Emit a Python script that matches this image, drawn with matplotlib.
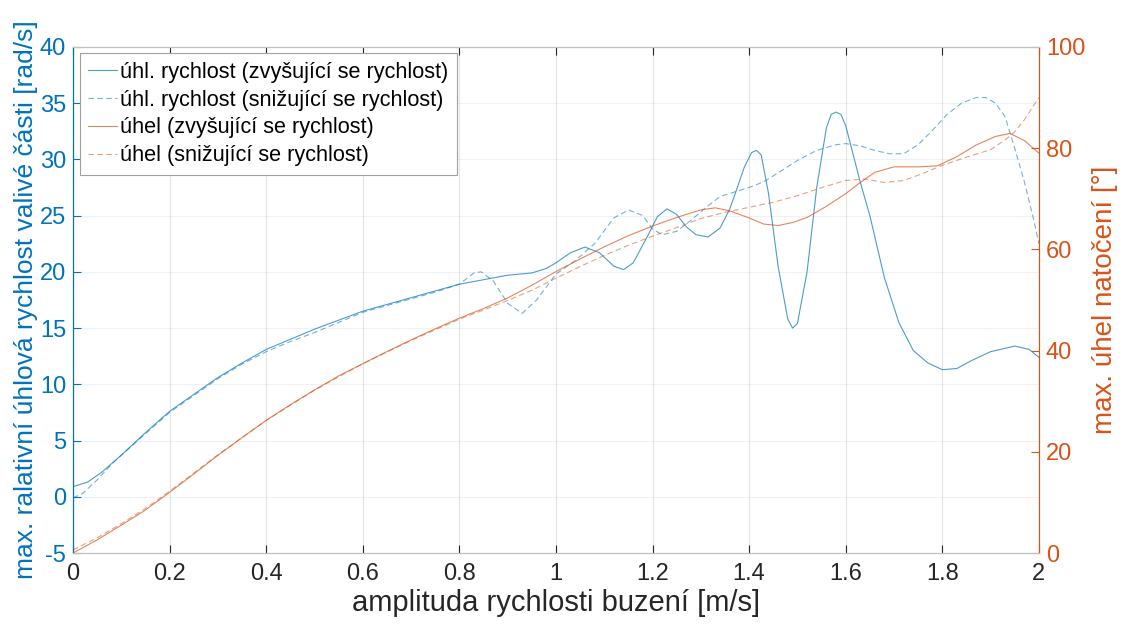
import matplotlib.pyplot as plt

plt.rcParams['font.family'] = ['Liberation Sans', 'DejaVu Sans']
plt.rcParams['axes.unicode_minus'] = False

# úhlová rychlost - zvyšující se rychlost [rad/s]
x_w_up = [0, 0.03, 0.06, 0.1, 0.15, 0.2, 0.25, 0.3, 0.35, 0.4, 0.45, 0.5, 0.55, 0.6, 0.65, 0.7,
          0.75, 0.8, 0.85, 0.9, 0.95, 0.98, 1.0, 1.03, 1.06, 1.09, 1.12, 1.14, 1.16, 1.19, 1.21,
          1.23, 1.25, 1.27, 1.29, 1.315, 1.34, 1.36, 1.37, 1.39, 1.405, 1.415, 1.425, 1.44,
          1.46, 1.48, 1.49, 1.50, 1.52, 1.54, 1.56, 1.57, 1.58, 1.59, 1.6, 1.63, 1.65, 1.68,
          1.71, 1.74, 1.77, 1.80, 1.83, 1.86, 1.9, 1.95, 1.98, 2.0]
w_up = [0.9, 1.3, 2.2, 3.7, 5.7, 7.6, 9.1, 10.6, 11.9, 13.1, 14.0, 14.9, 15.7, 16.5, 17.1, 17.7,
        18.3, 18.9, 19.3, 19.7, 19.9, 20.3, 20.8, 21.7, 22.2, 21.7, 20.5, 20.2, 20.8, 23.2, 24.9,
        25.6, 25.1, 24.0, 23.3, 23.1, 23.9, 25.6, 26.8, 29.3, 30.6, 30.8, 30.4, 27.0,
        20.5, 15.8, 15.0, 15.4, 20.0, 27.5, 32.8, 34.0, 34.2, 34.0, 33.0, 28.0, 25.0, 19.5,
        15.5, 13.0, 11.9, 11.3, 11.4, 12.1, 12.9, 13.4, 13.1, 12.4]

# úhlová rychlost - snižující se rychlost [rad/s]
x_w_down = [0, 0.02, 0.05, 0.08, 0.1, 0.15, 0.2, 0.25, 0.3, 0.35, 0.4, 0.45, 0.5, 0.55, 0.6,
            0.65, 0.7, 0.75, 0.8, 0.83, 0.845, 0.87, 0.9, 0.93, 0.96, 1.0, 1.04, 1.08, 1.12,
            1.15, 1.18, 1.2, 1.22, 1.25, 1.28, 1.31, 1.34, 1.37, 1.40, 1.43, 1.46, 1.5, 1.54,
            1.58, 1.6, 1.63, 1.66, 1.69, 1.72, 1.75, 1.78, 1.81, 1.84, 1.87, 1.89, 1.91, 1.93,
            1.95, 1.97, 1.99, 2.0]
w_down = [-0.1, 0.3, 1.5, 2.9, 3.7, 5.6, 7.5, 9.0, 10.5, 11.8, 12.9, 13.8, 14.6, 15.5, 16.4,
          17.0, 17.6, 18.2, 18.9, 19.9, 20.0, 19.2, 17.2, 16.3, 17.5, 19.8, 21.0, 22.5, 24.8,
          25.5, 25.0, 23.8, 23.3, 23.6, 24.6, 25.7, 26.7, 27.1, 27.5, 28.0, 28.8, 29.9, 30.8,
          31.3, 31.4, 31.2, 30.8, 30.5, 30.5, 31.3, 32.6, 34.0, 35.0, 35.5, 35.5, 35.0, 33.8,
          31.0, 28.0, 24.5, 22.5]

# úhel natočení - zvyšující se rychlost [°]
x_a_up = [0, 0.05, 0.1, 0.15, 0.2, 0.25, 0.3, 0.35, 0.4, 0.45, 0.5, 0.55, 0.6, 0.65, 0.7, 0.75,
          0.8, 0.85, 0.9, 0.95, 1.0, 1.05, 1.1, 1.15, 1.2, 1.25, 1.3, 1.33, 1.36, 1.4, 1.43,
          1.46, 1.49, 1.52, 1.56, 1.6, 1.63, 1.66, 1.7, 1.75, 1.79, 1.83, 1.87, 1.91, 1.94,
          1.97, 2.0]
a_up = [0, 2.6, 5.5, 8.5, 12.0, 15.6, 19.3, 22.8, 26.2, 29.3, 32.2, 35.0, 37.4, 39.8, 42.1, 44.3,
        46.4, 48.3, 50.4, 52.9, 55.6, 58.1, 60.5, 62.7, 64.6, 66.3, 67.8, 68.2, 67.6, 66.2, 65.0,
        64.7, 65.3, 66.3, 68.5, 71.0, 73.2, 75.2, 76.3, 76.3, 76.5, 78.3, 80.6, 82.3, 82.9,
        81.5, 79.0]

# úhel natočení - snižující se rychlost [°]
x_a_down = [0, 0.05, 0.1, 0.15, 0.2, 0.3, 0.4, 0.5, 0.6, 0.7, 0.8, 0.85, 0.9, 0.95, 1.0, 1.05,
            1.1, 1.15, 1.2, 1.25, 1.3, 1.35, 1.4, 1.45, 1.5, 1.55, 1.6, 1.64, 1.68, 1.72, 1.76,
            1.8, 1.85, 1.9, 1.93, 1.95, 1.97, 2.0]
a_down = [0.6, 3.0, 5.8, 8.8, 12.2, 19.4, 26.2, 32.2, 37.4, 42.0, 46.2, 48.0, 49.9, 51.9, 54.3,
          56.6, 58.8, 60.8, 62.6, 64.3, 66.1, 67.3, 68.3, 69.3, 70.6, 72.2, 73.6, 73.9, 73.2,
          73.6, 75.0, 76.6, 78.2, 79.7, 81.6, 83.2, 85.6, 90.0]

blue = '#0072BD'
orange = '#D95319'
dark = '#262626'

fig = plt.figure(figsize=(11.27, 6.26), dpi=100)
ax = fig.add_axes([0.0648, 0.1166, 0.857, 0.8085])
ax2 = ax.twinx()

l1, = ax.plot(x_w_up, w_up, color=blue, lw=0.8, alpha=0.7)
l2, = ax.plot(x_w_down, w_down, color=blue, lw=0.8, alpha=0.55, dashes=(5, 3))
l3, = ax2.plot(x_a_up, a_up, color=orange, lw=0.8, alpha=0.7)
l4, = ax2.plot(x_a_down, a_down, color=orange, lw=0.8, alpha=0.55, dashes=(5, 3))

ax.set_xlim(0, 2)
ax.set_ylim(-5, 40)
ax2.set_ylim(0, 100)
ax.set_xticks([0, 0.2, 0.4, 0.6, 0.8, 1, 1.2, 1.4, 1.6, 1.8, 2])
ax.set_xticklabels(['0', '0.2', '0.4', '0.6', '0.8', '1', '1.2', '1.4', '1.6', '1.8', '2'])
ax.set_yticks(range(-5, 41, 5))
ax2.set_yticks(range(0, 101, 20))

ax.grid(True, axis='x', color=dark, alpha=0.12, lw=0.8)
ax.grid(True, axis='y', color=blue, alpha=0.08, lw=0.8)

ax.tick_params(axis='x', direction='in', length=6, top=True, colors=dark, labelsize=17, pad=7)
ax.tick_params(axis='y', direction='in', length=6, colors=blue, labelsize=17, pad=5)
ax2.tick_params(axis='y', direction='in', length=6, colors=orange, labelsize=17, pad=5)

for a in (ax, ax2):
    a.spines['top'].set_color('#c0c0c0')
    a.spines['bottom'].set_color('#c0c0c0')
    a.spines['left'].set_color(blue)
    a.spines['right'].set_color(orange)
    for s in a.spines.values():
        s.set_linewidth(0.8)

ax.set_xlabel('amplituda rychlosti buzení [m/s]', fontsize=21, color=dark, labelpad=3)
ax.set_ylabel('max. ralativní úhlová rychlost valivé části [rad/s]', fontsize=19, color=blue,
              labelpad=1)
ax2.set_ylabel('max. úhel natočení [°]', fontsize=20, color=orange, labelpad=5)

leg = ax2.legend([l1, l2, l3, l4],
                 ['úhl. rychlost (zvyšující se rychlost)', 'úhl. rychlost (snižující se rychlost)',
                  'úhel (zvyšující se rychlost)', 'úhel (snižující se rychlost)'],
                 loc='upper left', bbox_to_anchor=(0.007, 0.988), fontsize=15.6, frameon=True,
                 fancybox=False, edgecolor='#a0a0a0', framealpha=1, handlelength=1.3,
                 handletextpad=0.15, borderpad=0.4, labelspacing=0.32, borderaxespad=0)
leg.get_frame().set_linewidth(0.8)
for t in leg.get_texts():
    t.set_color('black')

fig.savefig('out.png', dpi=100)
